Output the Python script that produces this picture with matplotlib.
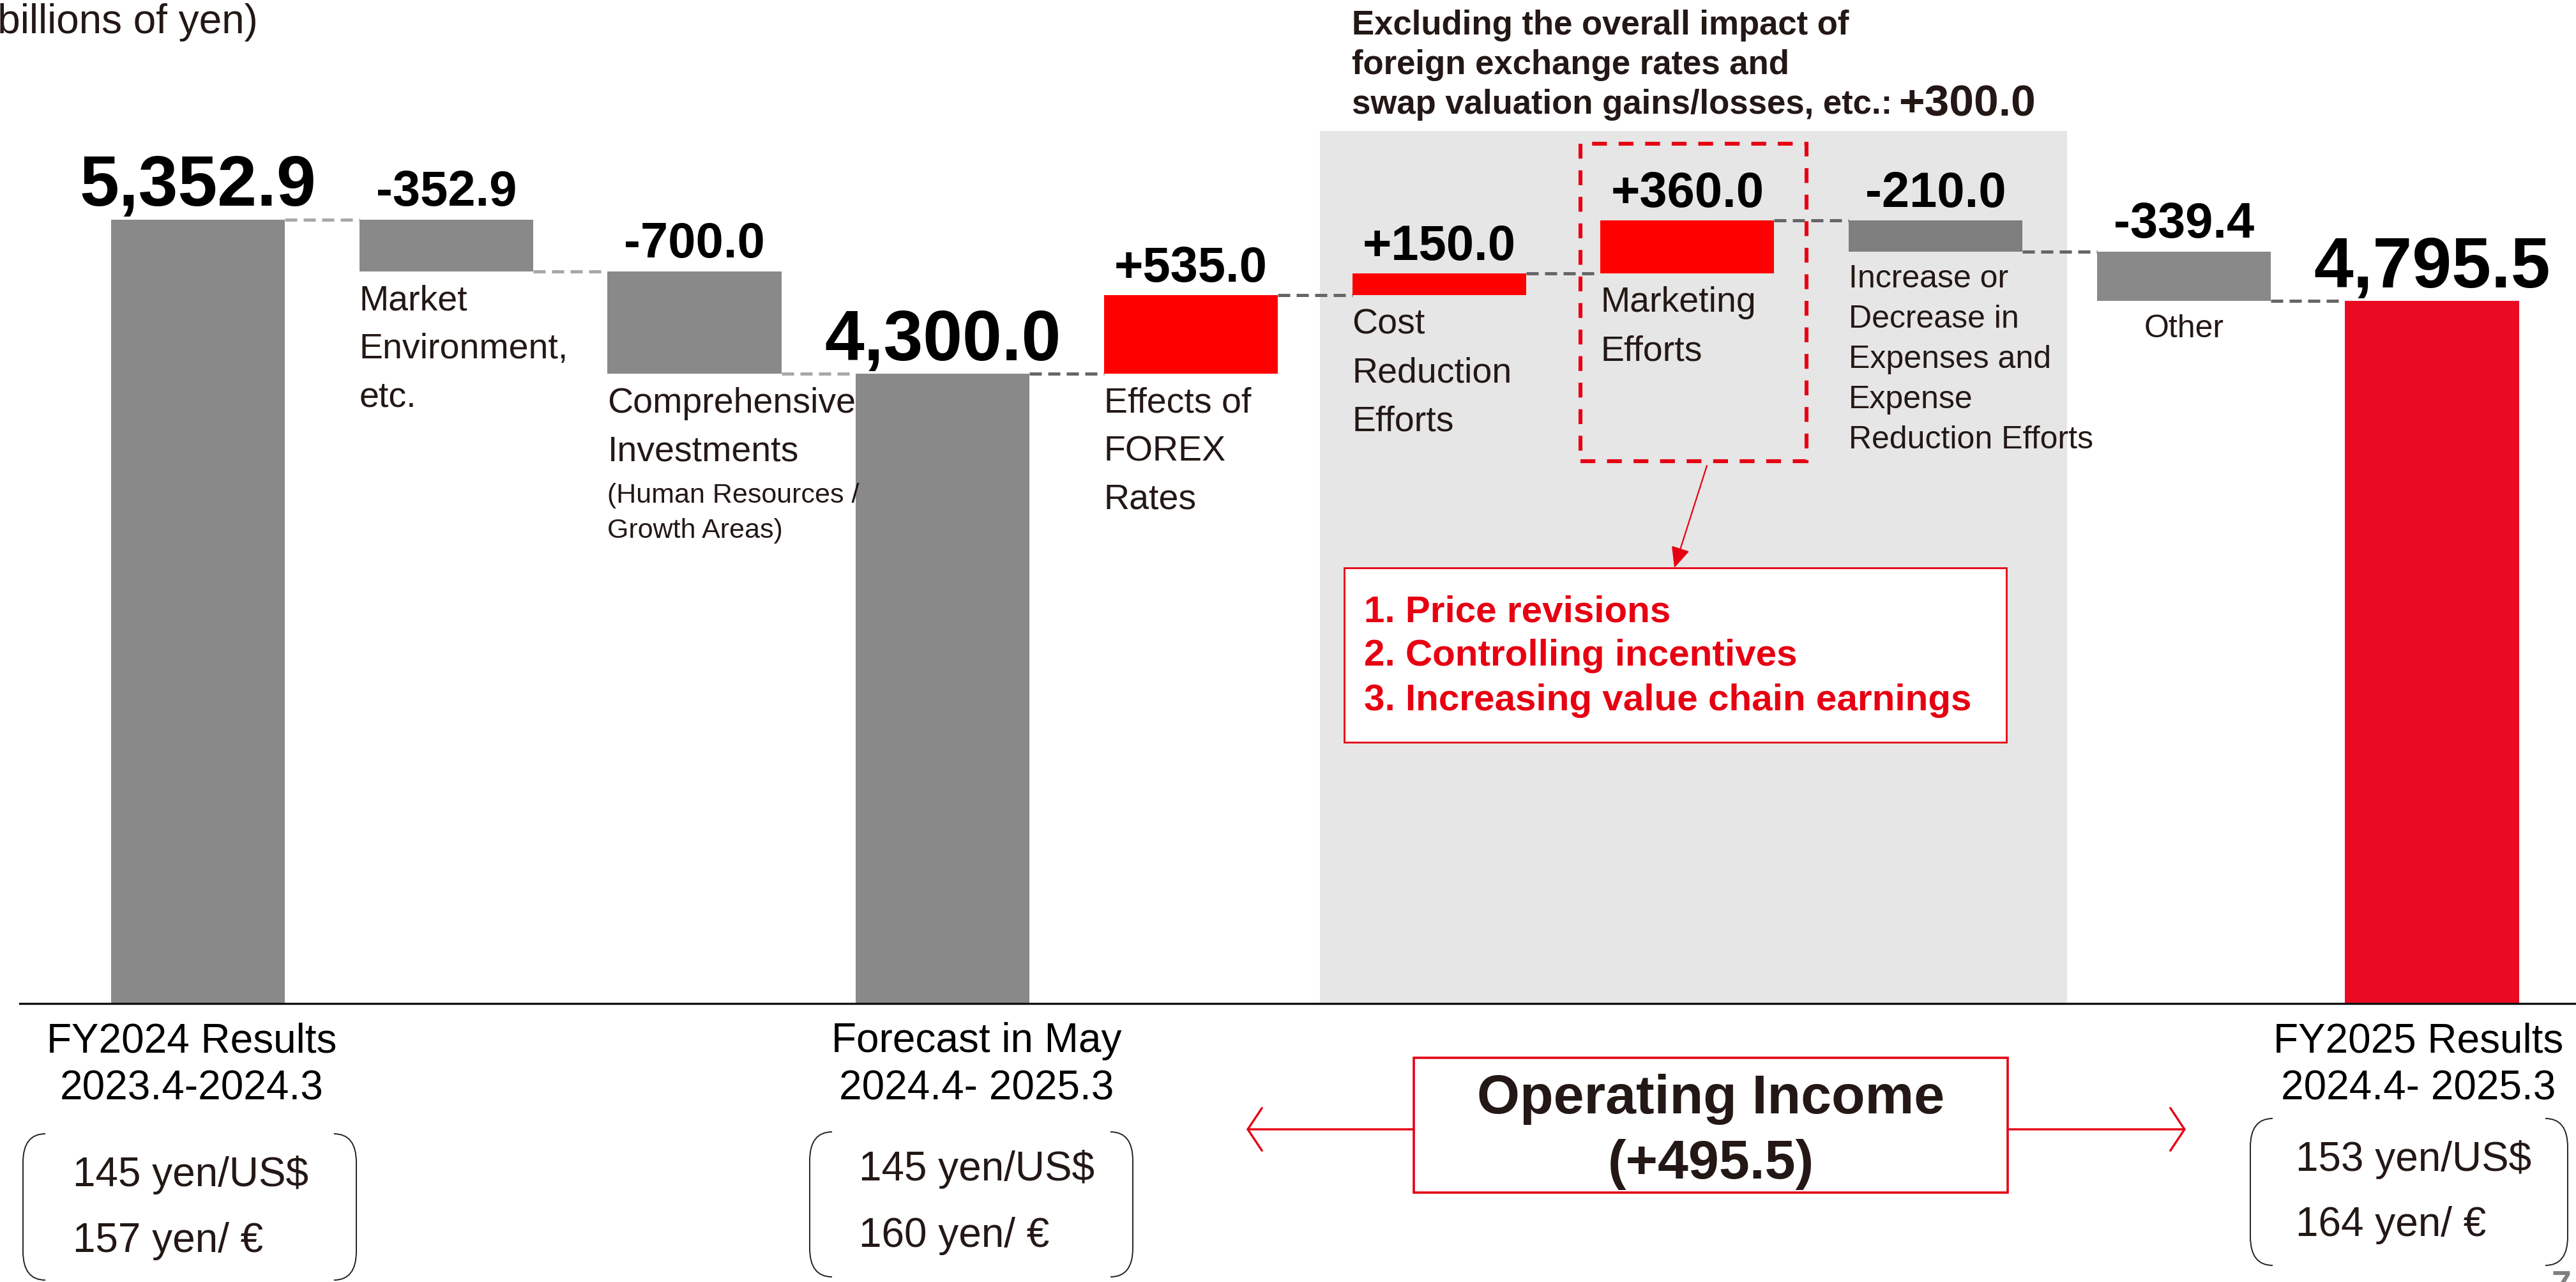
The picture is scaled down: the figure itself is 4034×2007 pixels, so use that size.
import numpy as np
import matplotlib
matplotlib.use("Agg")
import matplotlib.pyplot as plt
from matplotlib.patches import Rectangle, FancyArrowPatch, PathPatch
from matplotlib.path import Path

plt.rcParams["font.family"] = ["Liberation Sans", "DejaVu Sans"]

# ----------------------------------------------------------
# Data (billions of yen)
# ----------------------------------------------------------
values = [5352.9, -352.9, -700.0, 4300.0, 535.0, 150.0, 360.0, -210.0, -339.4, 4795.5]
is_total = [True, False, False, True, False, False, False, False, False, True]
cat_labels = ["", "Market\nEnvironment,\netc.", "Comprehensive\nInvestments", "",
              "Effects of\nFOREX\nRates", "Cost\nReduction\nEfforts", "Marketing\nEfforts",
              "Increase or\nDecrease in\nExpenses and\nExpense\nReduction Efforts",
              "Other", ""]
invest_note = "(Human Resources /\nGrowth Areas)"
period_names = ["FY2024 Results", "Forecast in May", "FY2025 Results"]
period_ranges = ["2023.4-2024.3", "2024.4- 2025.3", "2024.4- 2025.3"]
usd_rates = [145, 145, 153]
eur_rates = [157, 160, 164]
marketing_items = ["Price revisions", "Controlling incentives", "Increasing value chain earnings"]
excl_lines = ["Excluding the overall impact of", "foreign exchange rates and",
              "swap valuation gains/losses, etc.: "]
excl_total = 300.0
op_income_change = 495.5

# ----------------------------------------------------------
# Styles
# ----------------------------------------------------------
GRAY = "#898989"
RED = "#FF0000"
CORP_RED = "#E60012"
TXT = "#231815"
bar_colors = [GRAY, GRAY, GRAY, GRAY, RED, RED, RED, "#7F7F7F", GRAY, "#EA0A22"]
conn_colors = ["#A8A8A8"] * 3 + ["#666666"] * 6
W, H = 4034, 2008


def fx(x):
    return x / W


def fy(y):
    return 1 - y / H


fig = plt.figure(figsize=(W / 200, H / 200), dpi=200)
ax = fig.add_axes([0, fy(1572), 1, 1572 / H])
ax.set_xlim(-0.7975, 9.58)
ax.set_ylim(0, 6856)
ax.axis("off")

# --- waterfall geometry ---
bottoms, heights, levels = [], [], []
level = 0.0
for v, tot in zip(values, is_total):
    if tot:
        bottoms.append(0.0)
        heights.append(v)
        level = v
    else:
        bottoms.append(level if v > 0 else level + v)
        heights.append(abs(v))
        level += v
    levels.append(level)

x = np.arange(len(values))
bw = 0.7

# shaded block for initiatives
ax.add_patch(Rectangle((4.52, 0), 3.01, 5958, color="#E6E6E6", zorder=0, lw=0))

ax.bar(x, heights, bottom=bottoms, width=bw, color=bar_colors, zorder=2)

# connectors
for i in range(len(values) - 1):
    ax.plot([x[i] + bw / 2, x[i + 1] - bw / 2], [levels[i], levels[i]],
            color=conn_colors[i], lw=1.8, dashes=(3.8, 2), zorder=1)

# baseline
ax.plot([-0.718, 9.58], [0, 0], color="#111111", lw=1.2, clip_on=False, zorder=3)

# value labels
for i, (v, tot) in enumerate(zip(values, is_total)):
    top = bottoms[i] + heights[i]
    if tot:
        lab, fs = f"{v:,.1f}", 40
    else:
        lab, fs = f"{v:+.1f}", 28
    ax.annotate(lab, (x[i], top), xytext=(0, 8), textcoords="offset points",
                ha="center", va="baseline", fontsize=fs, weight="bold", color="black")

# category labels under floating bars
for i, lab in enumerate(cat_labels):
    if not lab:
        continue
    small = i >= 7
    if lab == "Other":
        pos, ha = (x[i], bottoms[i]), "center"
    else:
        pos, ha = (x[i] - bw / 2, bottoms[i]), "left"
    ax.annotate(lab, pos, xytext=(0, -7), textcoords="offset points", ha=ha, va="top",
                fontsize=18 if small else 20, linespacing=1.47 if small else 1.59, color=TXT)
# note sits under "Investments" (baseline of its last line)
ax.annotate(invest_note, (x[2] - bw / 2, bottoms[2]), xytext=(0, -92), textcoords="offset points",
            ha="left", va="baseline", fontsize=15.5, linespacing=1.46, color=TXT)

# marketing dashed box
ax.add_patch(Rectangle((5.57, 3703), 0.91, 2166, fill=False, ec=CORP_RED, lw=2.2,
                       ls=(0, (3.8, 3)), zorder=4))

# ----------------------------------------------------------
# Figure-level annotations
# ----------------------------------------------------------
fig.text(fx(404), fy(52), "(billions of yen)", ha="right", va="baseline", fontsize=23, color=TXT)

for yb, line in zip([54, 116, 178], excl_lines):
    fig.text(fx(2117), fy(yb), line, ha="left", va="baseline", fontsize=19, weight="bold", color=TXT)
fig.text(fx(2973), fy(181), f"{excl_total:+.1f}", ha="left", va="baseline", fontsize=25,
         weight="bold", color=TXT)

# marketing detail box
fig.patches.append(Rectangle((fx(2105), fy(1163)), fx(3142) - fx(2105), fy(890) - fy(1163),
                             transform=fig.transFigure, fc="white", ec=CORP_RED, lw=1.0))
for k, (yb, item) in enumerate(zip([973, 1042, 1112], marketing_items), start=1):
    fig.text(fx(2136), fy(yb), f"{k}. {item}", ha="left", va="baseline", fontsize=21,
             weight="bold", color=CORP_RED)
fig.patches.append(FancyArrowPatch((fx(2673), fy(730)), (fx(2622), fy(890)),
                                   transform=fig.transFigure, arrowstyle="-|>,head_length=10,head_width=4.5",
                                   color=CORP_RED, lw=0.8, shrinkA=0, shrinkB=0, mutation_scale=1))

# period labels
for cx, name, rng in zip([300, 1529, 3787], period_names, period_ranges):
    fig.text(fx(cx), fy(1647), name, ha="center", va="baseline", fontsize=23, color="black")
    fig.text(fx(cx), fy(1722), rng, ha="center", va="baseline", fontsize=23, color="black")


def bracket_box(x0, y0, x1, y1, rx=35, ry=45):
    verts = [(x0 + rx, y0), (x0, y0), (x0, y0 + ry), (x0, y1 - ry), (x0, y1), (x0 + rx, y1),
             (x1 - rx, y0), (x1, y0), (x1, y0 + ry), (x1, y1 - ry), (x1, y1), (x1 - rx, y1)]
    codes = [Path.MOVETO, Path.CURVE3, Path.CURVE3, Path.LINETO, Path.CURVE3, Path.CURVE3] * 2
    verts = [(fx(a), fy(b)) for a, b in verts]
    fig.patches.append(PathPatch(Path(verts, codes), transform=fig.transFigure, fill=False,
                                 ec="#222222", lw=0.7))


boxes = [(36, 1776, 558, 2005), (1268, 1773, 1774, 2000), (3524, 1752, 4021, 1982)]
text_pos = [(114, 1857, 1960), (1345, 1848, 1952), (3595, 1833, 1935)]
for b, (tx, y1, y2), usd, eur in zip(boxes, text_pos, usd_rates, eur_rates):
    bracket_box(*b)
    fig.text(fx(tx), fy(y1), f"{usd} yen/US$", ha="left", va="baseline", fontsize=23, color=TXT)
    fig.text(fx(tx), fy(y2), f"{eur} yen/ \u20ac", ha="left", va="baseline", fontsize=23, color=TXT)

# operating income box and arrows
fig.patches.append(Rectangle((fx(2214), fy(1868)), fx(3144) - fx(2214), fy(1657) - fy(1868),
                             transform=fig.transFigure, fc="white", ec=CORP_RED, lw=1.3))
fig.text(fx(2679), fy(1743), "Operating Income", ha="center", va="baseline", fontsize=31,
         weight="bold", color=TXT)
fig.text(fx(2679), fy(1845), f"({op_income_change:+.1f})", ha="center", va="baseline", fontsize=31,
         weight="bold", color=TXT)
for xa, xb in [(2214, 1952), (3144, 3423)]:
    fig.patches.append(FancyArrowPatch((fx(xa), fy(1769)), (fx(xb), fy(1769)),
                                       transform=fig.transFigure, arrowstyle="->,head_length=8,head_width=12",
                                       color=CORP_RED, lw=1.2, shrinkA=0, shrinkB=0, mutation_scale=1))

# page number (cut at the corner)
fig.text(fx(3996), fy(1988), "7", ha="left", va="top", fontsize=20, weight="bold", color="#7F7F7F")

fig.savefig("out.png", dpi=200)
